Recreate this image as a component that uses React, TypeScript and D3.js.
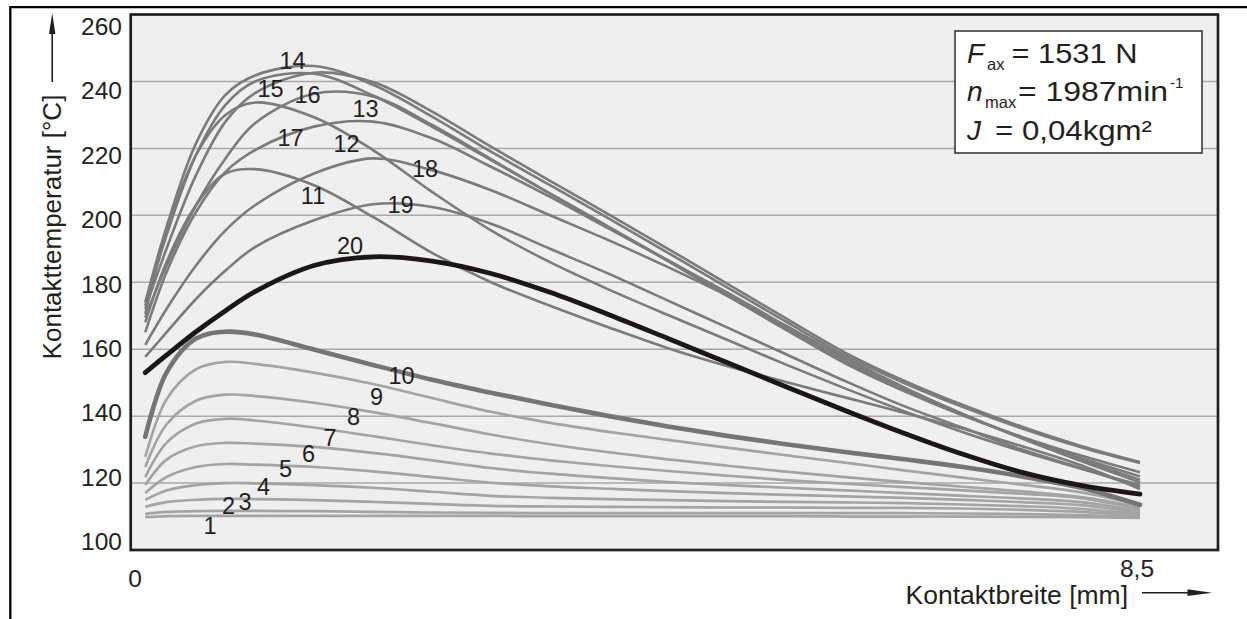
import React from 'react';
import * as d3 from 'd3';

// Contact width positions (mm) at which every curve is sampled
const contactWidthMm = [0.07, 0.25, 0.5, 0.75, 1, 1.5, 2, 2.5, 3, 3.5, 4, 4.5, 5, 5.5, 6, 6.5, 7, 7.5, 8, 8.5];

// Contact temperature (°C) per curve
const curve1 = [109.8, 110.1, 110.2, 110.2, 110.2, 110.2, 110.2, 110.2, 110.2, 110.1, 110.1, 110.1, 110.1, 110.1, 110, 110, 110, 109.9, 109.8, 109.6];
const curve2 = [110.8, 111.4, 111.6, 111.7, 111.7, 111.6, 111.4, 111.2, 111.1, 111, 111, 111, 111, 111, 111, 111, 110.9, 110.7, 110.4, 109.9];
const curve3 = [112.9, 114.3, 115, 115.3, 115.2, 114.9, 114.4, 113.8, 113.2, 113, 112.9, 112.8, 112.7, 112.7, 112.6, 112.6, 112.4, 112, 111.4, 110.2];
const curve4 = [115, 117.8, 119.4, 120, 119.9, 119.4, 118.6, 117.4, 116.2, 115.6, 115.2, 114.9, 114.6, 114.4, 114.2, 114, 113.6, 113.1, 112.3, 110.6];
const curve5 = [117, 121.8, 124.8, 125.7, 125.5, 124.8, 123.5, 121.8, 120.1, 119, 118.3, 117.6, 117, 116.5, 116, 115.6, 115, 114.3, 113.4, 111.1];
const curve6 = [119.4, 127, 131, 132, 131.8, 130.8, 129, 126.8, 124.5, 122.8, 121.5, 120.3, 119.4, 118.6, 117.8, 117, 116.2, 115.4, 114.3, 111.6];
const curve7 = [121.8, 132, 137.8, 139.2, 138.7, 136.6, 134, 131.3, 128.8, 126.8, 125.1, 123.6, 122.2, 120.9, 119.8, 118.8, 117.8, 116.8, 115.5, 112.2];
const curve8 = [124.8, 137.5, 144.6, 146.4, 146, 144, 141.2, 137.9, 134.5, 131.6, 129.2, 127.1, 125.2, 123.4, 121.8, 120.3, 118.9, 117.5, 115.8, 112.8];
const curve9 = [127.8, 145, 154, 156.2, 155.6, 153, 149.6, 145.4, 141.3, 138, 135.3, 132.9, 130.6, 128.3, 126.1, 123.8, 121.6, 119.5, 117.2, 113.5];
const curve10 = [133.8, 153, 163.2, 165.2, 164.4, 159.9, 155.3, 150.9, 147, 143.4, 140, 136.9, 134.1, 131.6, 129.3, 127.1, 124.8, 122, 118.6, 113.5];
const curve11 = [168, 186, 203, 212.5, 213.8, 209, 199.5, 188.8, 180, 173, 166.5, 160.3, 155, 150.2, 145.6, 141, 136.2, 131, 125.3, 118.2];
const curve12 = [173, 194, 218, 233, 240, 242.3, 235.8, 226.5, 216.5, 206.5, 196.5, 186.3, 176, 165.8, 155.8, 147.5, 140.2, 133.8, 128.2, 123.2];
const curve13 = [172, 190, 212, 228, 236.5, 242.6, 239.8, 231, 220.5, 210.3, 200.2, 190, 179.6, 169.2, 159, 150.6, 143.3, 136.8, 131.1, 126.3];
const curve14 = [174, 196.5, 221.5, 236, 241.8, 244.6, 239, 229.5, 219, 209, 199, 188.8, 178.5, 168.2, 158.2, 149.9, 142.7, 136.3, 130.7, 126];
const curve15 = [170.5, 195, 218, 230, 233.7, 229.3, 219.5, 207, 195.5, 186, 177.8, 170.2, 162.8, 155.4, 148.3, 141.5, 135.2, 129.5, 124.3, 119.4];
const curve16 = [169.5, 185, 203, 217, 227.5, 236.3, 235.5, 227, 216.8, 206.5, 196.5, 186.5, 176.3, 166.2, 156.5, 148, 140.4, 133.6, 127.5, 122];
const curve17 = [165, 183, 201, 213, 219.5, 226.5, 228, 223, 214.5, 205.5, 196, 186.5, 177, 167, 157.3, 148.5, 140.6, 133.5, 127, 121];
const curve18 = [161.3, 172, 185, 195.5, 203, 212.5, 217, 213.5, 207.5, 200, 192.5, 184.5, 176, 166.8, 157.5, 148.6, 140.6, 133.3, 126.6, 120.2];
const curve19 = [157.7, 165, 175, 183.5, 190.5, 198.5, 203.3, 202.5, 197.5, 190, 182.5, 174.5, 166.5, 158.5, 150.5, 143, 136.5, 130, 124.5, 118.8];
const curve20 = [153, 158.2, 165.2, 171.5, 177.2, 185, 187.6, 186.3, 182.6, 177, 170.3, 163.2, 156, 148.8, 141.7, 134.9, 128.6, 123.2, 119.3, 116.7];

const lightCurves = [curve1, curve2, curve3, curve4, curve5, curve6, curve7, curve8, curve9];
const upperCurves = [curve11, curve12, curve13, curve14, curve15, curve16, curve17, curve18, curve19];

// Axis ticks
const yTickValues = [100, 120, 140, 160, 180, 200, 220, 240, 260];
const gridValues = [120, 140, 160, 180, 200, 220, 240];
const xTickLabels = ['0', '8,5'];

// Curve number labels, placed in data units (mm, °C)
const labelTexts = ['1', '2', '3', '4', '5', '6', '7', '8', '9', '10', '11', '12', '13', '14', '15', '16', '17', '18', '19', '20'];
const labelMm = [0.62, 0.775, 0.915, 1.072, 1.258, 1.453, 1.636, 1.835, 2.03, 2.242, 1.492, 1.775, 1.936, 1.318, 1.131, 1.445, 1.301, 2.441, 2.233, 1.805];
const labelTemp = [107.2, 113.1, 114.2, 118.7, 124.2, 128.7, 133.6, 139.6, 145.6, 152.0, 205.8, 221.3, 231.8, 246.0, 237.7, 235.9, 223.2, 213.8, 203.1, 190.7];

// Parameter box texts
const paramSymbols = ['F', 'n', 'J'];
const paramSubscripts = ['ax', 'max', ''];
const paramValues = ['= 1531 N', '= 1987min', '= 0,04kgm²'];

const FONT = "'Liberation Sans', Arial, Helvetica, sans-serif";
const INK = '#231f20';

export default function App() {
  const W = 1247;
  const H = 619;
  const plot = { left: 130.7, right: 1218, top: 14.5, bottom: 550 };

  const x = d3.scaleLinear().domain([0, 8.5]).range([137, 1140]);
  const y = d3.scaleLinear().domain([100, 260]).range([plot.bottom, plot.top]);
  const yLabel = d3.scaleLinear().domain([100, 260]).range([541.7, 26.5]);

  const line = d3
    .line<number>()
    .x((_, i) => x(contactWidthMm[i]))
    .y((d) => y(d))
    .curve(d3.curveCatmullRom.alpha(0.5));

  // parameter box layout
  const legBaselines = [63, 101.3, 139.7];
  const subX = [987, 985, 0];
  const valX = [1011.5, 1018, 995];
  const valLen = [126, 150, 157];

  return (
    <svg
      width={W}
      height={H}
      viewBox={`0 0 ${W} ${H}`}
      style={{ position: 'absolute', left: 0, top: 0, background: '#fff' }}
      fontFamily={FONT}
    >
      <rect x={0} y={0} width={W} height={H} fill="#fff" />
      {/* outer frame */}
      <path d={`M10.3,${H} V7.2 H${W}`} fill="none" stroke="#000" strokeWidth={2.3} />

      {/* plot area */}
      <rect
        x={plot.left}
        y={plot.top}
        width={plot.right - plot.left}
        height={plot.bottom - plot.top}
        fill="#efefef"
      />
      {gridValues.map((v) => (
        <line key={v} x1={plot.left} x2={plot.right} y1={y(v)} y2={y(v)} stroke="#a9a9a9" strokeWidth={1.5} />
      ))}

      {lightCurves.map((c, i) => (
        <path key={'l' + i} d={line(c) || ''} fill="none" stroke="#a4a4a4" strokeWidth={2.7} />
      ))}
      {upperCurves.map((c, i) => (
        <path key={'u' + i} d={line(c) || ''} fill="none" stroke="#7b7b7b" strokeWidth={2.6} />
      ))}
      <path d={line(curve10) || ''} fill="none" stroke="#757575" strokeWidth={4.6} strokeLinecap="round" />
      <path d={line(curve20) || ''} fill="none" stroke="#1c1717" strokeWidth={4.8} strokeLinecap="round" />

      <rect
        x={plot.left}
        y={plot.top}
        width={plot.right - plot.left}
        height={plot.bottom - plot.top}
        fill="none"
        stroke={INK}
        strokeWidth={2.7}
      />

      {/* curve labels */}
      {labelTexts.map((t, i) => (
        <text
          key={'lab' + t}
          x={x(labelMm[i])}
          y={y(labelTemp[i])}
          fontSize={23.5}
          fill={INK}
          textAnchor="middle"
          dominantBaseline="central"
        >
          {t}
        </text>
      ))}

      {/* y tick labels */}
      {yTickValues.map((v) => (
        <text key={'yt' + v} x={122} y={yLabel(v)} fontSize={24.5} fill={INK} textAnchor="end" dominantBaseline="central">
          {v}
        </text>
      ))}

      {/* x tick labels */}
      <text x={x(0) - 2} y={578.5} fontSize={24.5} fill={INK} textAnchor="middle" dominantBaseline="central">
        {xTickLabels[0]}
      </text>
      <text x={x(8.5) - 3} y={568.5} fontSize={24.5} fill={INK} textAnchor="middle" dominantBaseline="central">
        {xTickLabels[1]}
      </text>

      {/* y axis title with arrow */}
      <text
        transform="translate(52,227) rotate(-90)"
        fontSize={26}
        fill={INK}
        textAnchor="middle"
        dominantBaseline="central"
      >
        Kontakttemperatur [°C]
      </text>
      <line x1={52.2} x2={52.2} y1={82} y2={30} stroke={INK} strokeWidth={1.6} />
      <path d="M52.2,13 L49,34 L55.4,34 Z" fill={INK} />

      {/* x axis title with arrow */}
      <text x={1128} y={603.5} fontSize={26.5} fill={INK} textAnchor="end">
        Kontaktbreite [mm]
      </text>
      <line x1={1142} x2={1192} y1={592.7} y2={592.7} stroke={INK} strokeWidth={1.6} />
      <path d="M1212,592.7 L1187.5,589.3 L1187.5,596.1 Z" fill={INK} />

      {/* parameter box */}
      <rect x={955} y={31} width={247} height={122} fill="#fff" stroke="#3a3a3a" strokeWidth={1.6} />
      {paramSymbols.map((s, i) => (
        <g key={'p' + i} fill={INK}>
          <text x={967} y={legBaselines[i]} fontSize={28} fontStyle="italic">
            {s}
          </text>
          {paramSubscripts[i] && (
            <text x={subX[i]} y={legBaselines[i] + 6.5} fontSize={16.5}>
              {paramSubscripts[i]}
            </text>
          )}
          <text x={valX[i]} y={legBaselines[i]} fontSize={28} textLength={valLen[i]} lengthAdjust="spacingAndGlyphs">
            {paramValues[i]}
          </text>
        </g>
      ))}
      <text x={1170} y={88} fontSize={15} fill={INK}>
        -1
      </text>
    </svg>
  );
}
